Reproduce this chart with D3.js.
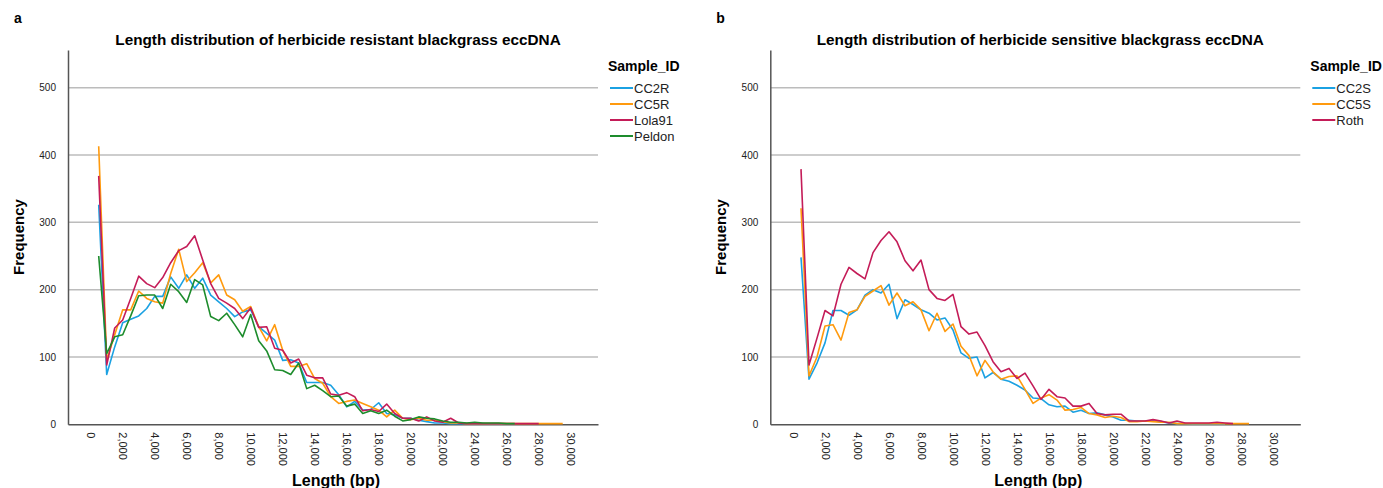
<!DOCTYPE html>
<html>
<head>
<meta charset="utf-8">
<script src="https://d3js.org/d3.v7.min.js"></script>
<style>
  body { margin: 0; background: #fff; }
  svg text { font-family: "Liberation Sans", Arial, sans-serif; }
</style>
</head>
<body>
<svg id="chart" width="1383" height="488"></svg>
<script>
// bins are 500 bp wide, first bin at 500
const binStep = 500;
const yTicks = [0, 100, 200, 300, 400, 500];
const xTicks = d3.range(0, 30001, 2000);

const resistantIds = ["CC2R", "CC5R", "Lola91", "Peldon"];
const sensitiveIds = ["CC2S", "CC5S", "Roth"];

const cc2r = [326, 74, 115, 151, 156, 161, 172, 190, 190, 219, 202, 222, 202, 217, 192, 182, 172, 160, 167, 170,
  145, 135, 125, 95, 96, 91, 62, 62, 62, 58, 44, 26, 34, 21, 22, 32, 16, 14, 9, 9,
  6, 4, 2, 2, 1, 1, 1, 0, 1, 0, 0, 0, 0];
const cc5r = [413, 95, 133, 170, 170, 198, 187, 182, 180, 224, 260, 212, 225, 240, 210, 222, 192, 185, 168, 175,
  145, 124, 148, 110, 86, 86, 90, 68, 61, 41, 31, 34, 36, 31, 26, 21, 11, 21, 9, 7,
  9, 6, 6, 4, 2, 2, 1, 1, 1, 1, 1, 1, 1, 1, 1, 1, 1, 1, 1];
const lola91 = [369, 88, 143, 155, 187, 220, 209, 203, 218, 240, 258, 264, 280, 244, 209, 187, 180, 172, 157, 173,
  144, 145, 113, 110, 91, 97, 73, 69, 69, 45, 43, 47, 41, 20, 22, 19, 30, 16, 9, 9,
  5, 11, 5, 3, 9, 2, 1, 1, 1, 1, 1, 1, 1, 1, 1, 1];
const peldon = [250, 105, 130, 133, 161, 191, 192, 192, 172, 208, 197, 181, 215, 207, 160, 154, 165, 148, 130, 163,
  124, 109, 81, 80, 74, 91, 53, 58, 50, 41, 42, 27, 30, 16, 20, 16, 21, 12, 5, 7,
  11, 9, 8, 5, 3, 3, 2, 3, 2, 2, 2, 1, 1];

const cc2s = [248, 67, 91, 121, 169, 169, 162, 170, 192, 200, 195, 208, 157, 185, 178, 170, 165, 155, 158, 140,
  106, 98, 100, 69, 77, 67, 64, 58, 51, 39, 38, 29, 26, 27, 18, 21, 16, 17, 14, 11,
  6, 6, 5, 5, 5, 4, 2, 1, 1, 0, 0, 0, 0, 0];
const cc5s = [321, 72, 100, 146, 148, 125, 166, 170, 190, 198, 206, 177, 195, 176, 182, 170, 139, 165, 138, 149,
  116, 102, 72, 95, 78, 67, 71, 72, 52, 31, 39, 44, 36, 21, 22, 25, 16, 14, 10, 12,
  10, 4, 4, 5, 4, 3, 3, 1, 1, 1, 1, 1, 1, 1, 1, 1, 1];
const roth = [379, 88, 128, 169, 161, 208, 233, 224, 216, 255, 273, 286, 271, 243, 228, 244, 200, 187, 184, 193,
  145, 134, 137, 117, 93, 78, 83, 68, 76, 57, 37, 52, 41, 39, 27, 27, 31, 16, 14, 15,
  15, 5, 5, 5, 7, 5, 2, 5, 2, 2, 2, 2, 3, 2, 1];

const colors = {CC2R: "#1ba1e2", CC5R: "#ff9a0e", Lola91: "#c41c58", Peldon: "#1d8c2c",
                CC2S: "#1ba1e2", CC5S: "#ff9a0e", Roth: "#c41c58"};

const svg = d3.select("svg#chart");

function drawPanel(ox, letter, title, ids, series) {
  const g = svg.append("g").attr("transform", "translate(" + ox + ",0)");
  const x = d3.scaleLinear().domain([-1419, 31706]).range([68, 598]);
  const y = d3.scaleLinear().domain([0, 556]).range([424.3, 50]);

  // grid lines
  g.selectAll("line.grid").data(yTicks.filter(d => d > 0))
    .join("line")
    .attr("class", "grid")
    .attr("x1", 68).attr("x2", 598)
    .attr("y1", d => y(d)).attr("y2", d => y(d))
    .style("stroke", "#bcbcbc").style("stroke-width", 1.5);

  const yAxis = g.append("g").attr("transform", "translate(68,0)")
    .call(d3.axisLeft(y).tickValues(yTicks).tickSize(0).tickSizeOuter(0).tickPadding(12));
  yAxis.select(".domain").style("stroke", "#555").style("stroke-width", 1.5);
  yAxis.selectAll("text").style("font-size", "10px").style("fill", "#222");

  const xAxis = g.append("g").attr("transform", "translate(0,424.3)")
    .call(d3.axisBottom(x).tickValues(xTicks).tickFormat(d3.format(",")).tickSize(0).tickSizeOuter(0));
  xAxis.select(".domain").style("stroke", "#555").style("stroke-width", 1.5);
  xAxis.selectAll("text")
    .attr("y", 0).attr("x", 8).attr("dy", "0.35em")
    .attr("transform", "rotate(90)")
    .style("text-anchor", "start")
    .style("font-size", "11px").style("fill", "#222");

  const line = d3.line()
    .x((d, i) => x((i + 1) * binStep))
    .y(d => y(d));

  ids.forEach((id, i) => {
    g.append("path").datum(series[i])
      .attr("d", line)
      .style("fill", "none")
      .style("stroke", colors[id])
      .style("stroke-width", 1.6)
      .style("stroke-linejoin", "round");
  });

  g.append("text").attr("x", 14).attr("y", 23).text(letter)
    .style("font-size", "14px").style("font-weight", "bold");
  g.append("text").attr("x", 338).attr("y", 45).text(title)
    .style("text-anchor", "middle").style("font-size", "15.3px").style("font-weight", "bold");
  g.append("text")
    .attr("transform", "translate(24,237) rotate(-90)")
    .text("Frequency")
    .style("text-anchor", "middle").style("font-size", "15px").style("font-weight", "bold");
  g.append("text").attr("x", 336).attr("y", 486).text("Length (bp)")
    .style("text-anchor", "middle").style("font-size", "16px").style("font-weight", "bold");

  // legend
  const lg = g.append("g").attr("transform", "translate(608,0)");
  lg.append("text").attr("x", 0).attr("y", 71).text("Sample_ID")
    .style("font-size", "14px").style("font-weight", "bold");
  ids.forEach((id, i) => {
    const ly = 88 + i * 16;
    lg.append("line").attr("x1", 2).attr("x2", 25).attr("y1", ly).attr("y2", ly)
      .style("stroke", colors[id]).style("stroke-width", 2);
    lg.append("text").attr("x", 26).attr("y", ly).attr("dy", "0.35em").text(id)
      .style("font-size", "13px").style("fill", "#222");
  });
}

drawPanel(0, "a", "Length distribution of herbicide resistant blackgrass eccDNA",
  resistantIds, [cc2r, cc5r, lola91, peldon]);
drawPanel(702.3, "b", "Length distribution of herbicide sensitive blackgrass eccDNA",
  sensitiveIds, [cc2s, cc5s, roth]);
</script>
</body>
</html>
